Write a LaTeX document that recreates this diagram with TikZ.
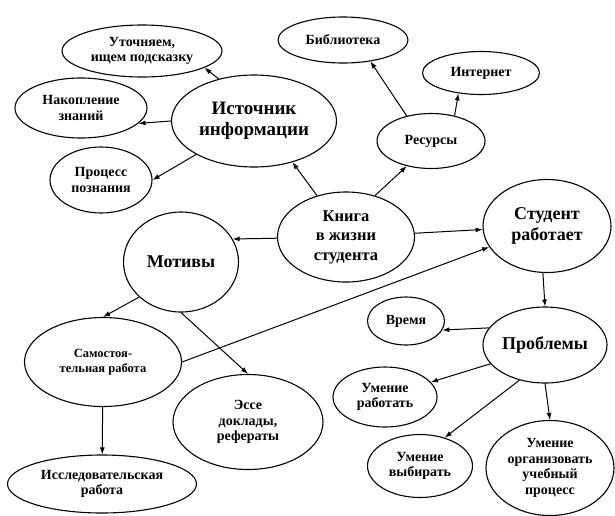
\documentclass[tikz,border=0pt]{standalone}
\usepackage{fontspec}
\setmainfont{Liberation Serif}
\usepackage{xcolor}
\usepackage{tikz}
\usetikzlibrary{arrows.meta,positioning,shapes.geometric}

\begin{document}
\begin{tikzpicture}[x=1pt,y=-1pt,
  bub/.style={ellipse,draw,line width=1.1pt,align=center,inner sep=0pt,font=\bfseries\fontsize{14}{15.5}\selectfont},
  big/.style={bub,font=\bfseries\fontsize{18}{21}\selectfont},
  arr/.style={-{Latex[length=7pt,width=5pt]},line width=1pt}
]
\useasboundingbox (0,0) rectangle (615,515);

\node[big,font=\bfseries\fontsize{19}{21}\selectfont,minimum width=165pt,minimum height=92pt] (istoch) at (254,121) {Источник\\информации};
\node[bub,minimum width=160pt,minimum height=52pt] (utoch) at (142,51) {Уточняем,\\ищем подсказку};
\node[bub,minimum width=132pt,minimum height=60pt] (nakop) at (81,108) {Накопление\\знаний};
\node[bub,minimum width=102pt,minimum height=66pt] (proc) at (101,180) {Процесс\\познания};

\node[bub,font=\bfseries\fontsize{16.5}{19.5}\selectfont,minimum width=137pt,minimum height=90pt] (kniga) at (346,237) {Книга\\в жизни\\студента};
\node[bub,minimum width=108pt,minimum height=55pt] (res) at (431,141) {Ресурсы};
\node[bub,minimum width=130pt,minimum height=46pt] (bibl) at (343,40) {Библиотека};
\node[bub,minimum width=117pt,minimum height=43pt] (inet) at (481,73) {Интернет};

\node[big,minimum width=128pt,minimum height=93pt] (stud) at (547,226) {Студент\\работает};
\node[big,minimum width=124pt,minimum height=76pt] (probl) at (545,345) {Проблемы};
\node[bub,minimum width=77pt,minimum height=48pt] (vrem) at (406,321) {Время};
\node[bub,minimum width=104pt,minimum height=60pt] (umrab) at (385,397) {Умение\\работать};
\node[bub,minimum width=105pt,minimum height=63pt] (umvyb) at (420,466) {Умение\\выбирать};
\node[bub,minimum width=128pt,minimum height=95pt] (umorg) at (550,468) {Умение\\организовать\\учебный\\процесс};

\node[big,minimum width=115pt,minimum height=100pt] (motiv) at (181,262) {Мотивы};
\node[bub,font=\bfseries\fontsize{12.5}{15.5}\selectfont,minimum width=157pt,minimum height=89pt] (samost) at (103,362) {Самостоя-\\тельная работа};
\node[bub,minimum width=189pt,minimum height=58pt] (issl) at (102,484) {Исследовательская\\работа};
\node[bub,minimum width=150pt,minimum height=95pt] (esse) at (248,422) {Эссе\\доклады,\\рефераты};

% source of information
\draw[arr] (istoch.130) -- (utoch.-15);
\draw[arr] (istoch.180) -- (nakop.-15);
\draw[arr] (istoch.210) -- (proc.0);
% book in the middle
\draw[arr] (kniga.125) -- (istoch.-47);
\draw[arr] (kniga.55) -- (res.226);
\draw[arr] (res.134) -- (bibl.-38);
\draw[arr] (res.47) -- (inet.222);
\draw[arr] (kniga.181) -- (motiv.24);
\draw[arr] (kniga) -- (stud);
\draw[arr] (samost.0) -- (stud.200);
% motives
\draw[arr] (motiv.220) -- (samost.north);
\draw[arr] (motiv.south) -- (esse.north);
\draw[arr] (samost) -- (issl);
% problems
\draw[arr] (stud.265) -- (probl.north);
\draw[arr] (probl.163) -- (vrem.-14);
\draw[arr] (probl.199) -- (umrab.18);
\draw[arr] (probl.234) -- (umvyb.49);
\draw[arr] (probl.south) -- (umorg.north);
\end{tikzpicture}
\end{document}
